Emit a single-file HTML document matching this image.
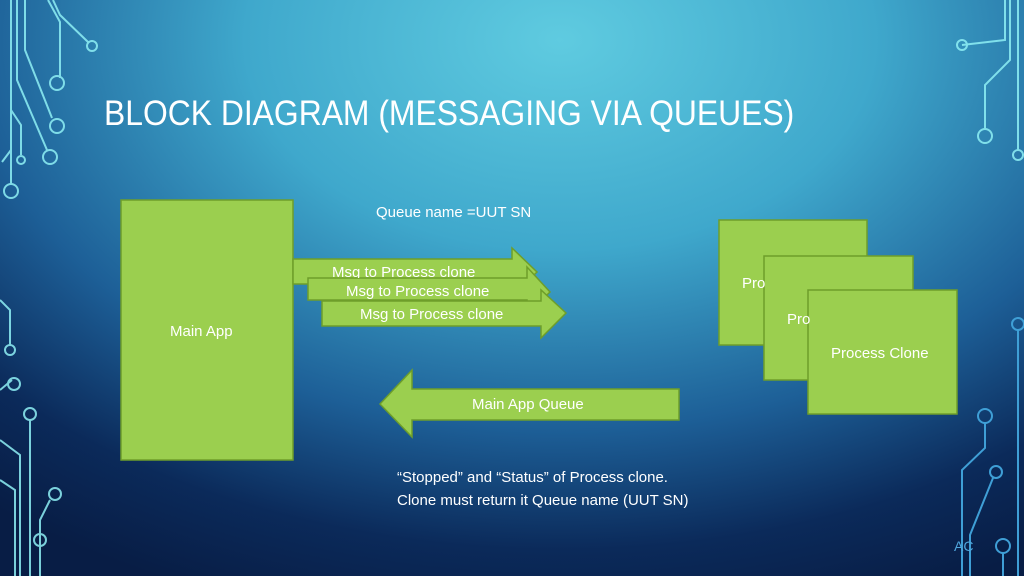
<!DOCTYPE html>
<html><head><meta charset="utf-8"><style>
html,body{margin:0;padding:0}
body{width:1024px;height:576px;overflow:hidden;position:relative;font-family:"Liberation Sans",sans-serif;
background:radial-gradient(ellipse 900px 600px at 560px 40px,#5fcbe0 0%,#3fa8cc 35%,#1d5f97 65%,#0b2a5a 85%,#081d45 100%);}
svg{position:absolute;left:0;top:0}
.t{position:absolute;color:#fff;white-space:nowrap}
</style></head><body>
<svg width="1024" height="576" viewBox="0 0 1024 576">
<g fill="none" stroke="#8ff0f5" stroke-width="2" opacity="0.85">
<path d="M11 0V185"/><path d="M17 0V80L47 150"/><path d="M25 0V50L52 118"/><path d="M48 0L60 22V78"/><path d="M53 0L60 15L88 42"/>
<path d="M11 110L21 125V155"/><path d="M11 150L2 162"/>
<circle cx="92" cy="46" r="5"/><circle cx="57" cy="83" r="7"/><circle cx="57" cy="126" r="7"/><circle cx="50" cy="157" r="7"/><circle cx="21" cy="160" r="4"/><circle cx="11" cy="191" r="7"/>
<path d="M1005 0V40L962 45"/><path d="M1010 0V60L985 85V130"/><path d="M1018 0V150"/>
<circle cx="962" cy="45" r="5"/><circle cx="985" cy="136" r="7"/><circle cx="1018" cy="155" r="5"/>
<path d="M0 300L10 310V345"/><circle cx="10" cy="350" r="5"/><path d="M0 390L12 380"/><circle cx="14" cy="384" r="6"/>
<path d="M0 440L20 455V576"/><path d="M30 420V576"/><circle cx="30" cy="414" r="6"/>
<path d="M0 480L15 490V576"/><path d="M50 500L40 520V576"/><circle cx="55" cy="494" r="6"/><circle cx="40" cy="540" r="6"/>
</g>
<g fill="none" stroke="#3f9fd6" stroke-width="2">
<circle cx="985" cy="416" r="7"/><path d="M985 423V448L962 470V576"/>
<circle cx="996" cy="472" r="6"/><path d="M993 478L970 535V576"/>
<circle cx="1003" cy="546" r="7"/><path d="M1003 553V576"/>
<path d="M1018 330V576"/><circle cx="1018" cy="324" r="6"/>
</g>
<g fill="#9bcf4f" stroke="#6e9e2a" stroke-width="1.5">
<rect x="121" y="200" width="172" height="260"/>
<rect x="719" y="220" width="148" height="125"/>
<rect x="764" y="256" width="149" height="124"/>
<rect x="808" y="290" width="149" height="124"/>
<polygon points="293,259 512,259 512,248 537,272 512,296 512,284 293,284"/>
<polygon points="308,278 527,278 527,267 550,292 527,314 527,300 308,300"/>
<polygon points="322,301 541,301 541,290 566,313 541,338 541,326 322,326"/>
<polygon points="380,404 412,370 412,389 679,389 679,420 412,420 412,437"/>
</g>
</svg>
<div class="t" style="left:104px;top:94px;font-size:35px;transform:scaleX(0.91);transform-origin:0 0">BLOCK DIAGRAM (MESSAGING VIA QUEUES)</div>
<div class="t" style="left:376px;top:204px;font-size:15px">Queue name =UUT SN</div>
<div class="t" style="left:170px;top:323px;font-size:15px">Main App</div>
<div class="t" style="left:332px;top:264px;font-size:15px;height:14px;overflow:hidden">Msg to Process clone</div>
<div class="t" style="left:346px;top:283px;font-size:15px">Msg to Process clone</div>
<div class="t" style="left:360px;top:306px;font-size:15px">Msg to Process clone</div>
<div class="t" style="left:742px;top:275px;font-size:15px">Pro</div>
<div class="t" style="left:787px;top:311px;font-size:15px">Pro</div>
<div class="t" style="left:831px;top:345px;font-size:15px">Process Clone</div>
<div class="t" style="left:472px;top:396px;font-size:15px">Main App Queue</div>
<div class="t" style="left:397px;top:466px;font-size:15px;line-height:23px">“Stopped” and “Status” of Process clone.<br>Clone must return it Queue name (UUT SN)</div>
<div class="t" style="left:954px;top:538px;font-size:14px;color:#4fa6dc">AC</div>
</body></html>
